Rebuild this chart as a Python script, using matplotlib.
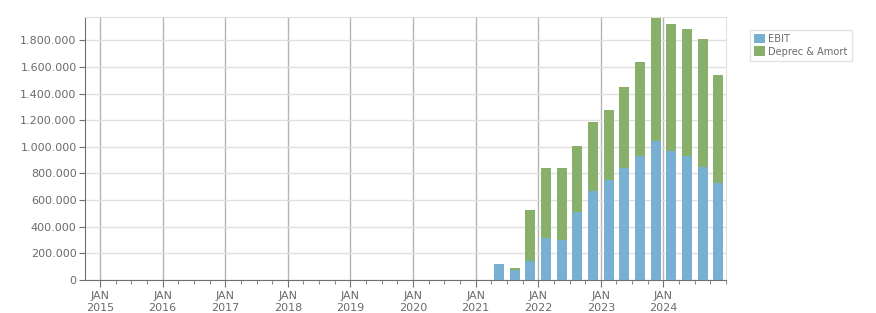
import numpy as np
import matplotlib
matplotlib.use('Agg')
import matplotlib.pyplot as plt
from matplotlib.ticker import FuncFormatter, MultipleLocator

# quarter midpoints, Q2 2021 .. Q4 2024
quarters = ['2021Q2', '2021Q3', '2021Q4', '2022Q1', '2022Q2', '2022Q3', '2022Q4',
            '2023Q1', '2023Q2', '2023Q3', '2023Q4', '2024Q1', '2024Q2', '2024Q3', '2024Q4']
ebit = [117000, 78000, 145000, 318000, 298000, 509000, 672000,
        748000, 841000, 931000, 1041000, 966000, 931000, 846000, 725000]
deprec = [6000, 9000, 377000, 520000, 540000, 495000, 512000,
          527000, 607000, 705000, 929000, 956000, 954000, 963000, 813000]
years = list(range(2015, 2025))

x = np.array([int(q[:4]) + (int(q[-1]) - 1) * 0.25 + 0.125 for q in quarters])

blue = '#78b0d2'
green = '#89b06b'
txt = '#6a6a6a'

fig = plt.figure(figsize=(8.76, 3.13), dpi=100)
ax = fig.add_axes([85/876, 1 - 280/313, (726-85)/876, (280-17)/313])

ax.bar(x, ebit, width=0.16, color=blue, label='EBIT', zorder=3)
ax.bar(x, deprec, width=0.16, bottom=ebit, color=green, label='Deprec & Amort', zorder=3)

ax.set_xlim(2014.76, 2025.0)
ax.set_ylim(0, 1975000)

ax.yaxis.set_major_locator(MultipleLocator(200000))
ax.yaxis.set_major_formatter(FuncFormatter(lambda v, p: f'{int(v):,}'.replace(',', '.')))
ax.set_xticks(years)
ax.set_xticklabels([f'JAN\n{y}' for y in years])
ax.xaxis.set_minor_locator(MultipleLocator(0.25))

ax.grid(axis='y', color='#e0e0e0', linewidth=1, zorder=0)
ax.grid(axis='x', which='major', color='#b4b4b4', linewidth=1, zorder=0)

for s in ['top', 'right']:
    ax.spines[s].set_color('#e0e0e0')
for s in ['left', 'bottom']:
    ax.spines[s].set_color('#707070')

ax.tick_params(axis='y', labelsize=8, colors='#707070', labelcolor=txt, length=4, pad=2)
ax.tick_params(axis='x', which='major', labelsize=8, colors='#707070', labelcolor=txt, length=5, pad=3)
ax.tick_params(axis='x', which='minor', colors='#707070', length=3)

leg = fig.legend(loc='upper left', bbox_to_anchor=(750/876, 1 - 30/313), fontsize=7.1,
                 frameon=True, fancybox=False, handlelength=1.1, handleheight=1.1,
                 handletextpad=0.35, borderpad=0.4, labelspacing=0.25, borderaxespad=0)
leg.get_frame().set_edgecolor('#dcdcdc')
leg.get_frame().set_linewidth(1)
for t in leg.get_texts():
    t.set_color(txt)

fig.savefig('out.png', dpi=100)
